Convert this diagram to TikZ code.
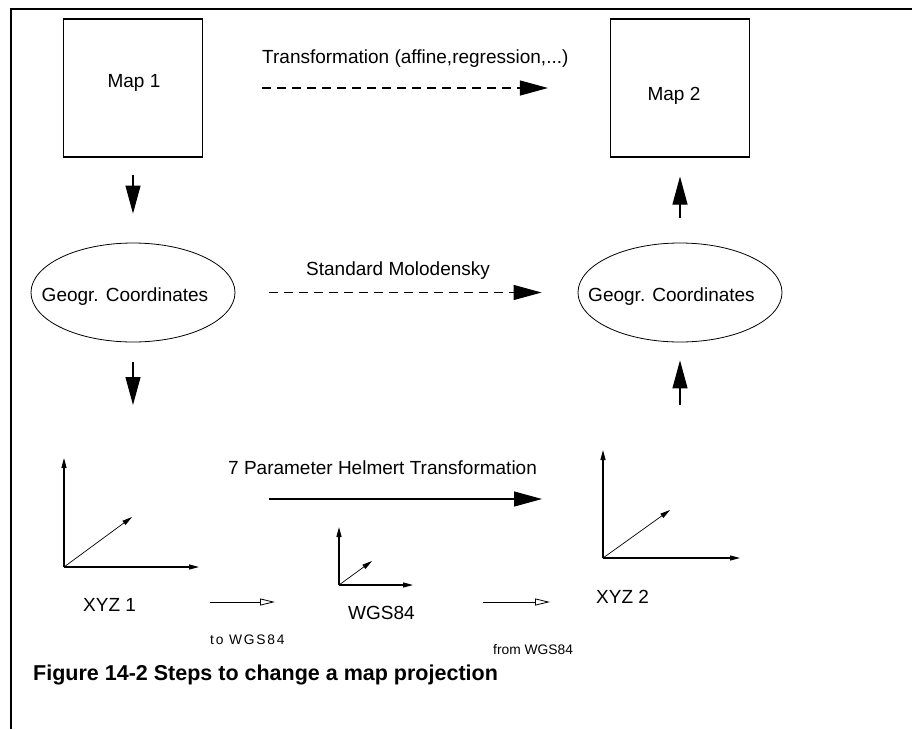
\documentclass[tikz,border=0pt]{standalone}
\usepackage{fontspec}
\setmainfont{Liberation Sans}
\usetikzlibrary{arrows.meta,shapes.geometric}

\begin{document}
\begin{tikzpicture}[x=1pt,y=-1pt,
  lbl/.style={inner sep=0pt, font=\fontsize{19}{22}\selectfont},
  small/.style={inner sep=0pt, font=\fontsize{13.8}{16}\selectfont},
  capt/.style={inner sep=0pt, font=\fontsize{21.5}{24}\selectfont\bfseries},
  mapbox/.style={draw, line width=1.1pt, minimum width=139pt, minimum height=138pt, inner sep=0pt},
  geo/.style={draw, ellipse, line width=0.8pt, minimum width=204pt, minimum height=99pt, inner sep=0pt},
  flow/.style={line width=1.1pt, -{Triangle[length=28pt,width=15pt]}},
  dashflow/.style={flow, dash pattern=on 9pt off 6pt},
  axis/.style={line width=1.2pt, -{Triangle[length=10pt,width=5pt]}},
  diag/.style={line width=0.7pt, -{Triangle[length=10pt,width=5pt]}},
  hollow/.style={line width=0.8pt, -{Triangle[open,length=15pt,width=7pt]}},
]
\useasboundingbox (0,0) rectangle (912,729);

% frame
\draw[line width=2.2pt] (912,9) -- (11,9) -- (11,729);

% maps
\node[mapbox] (map1) at (133,88) {};
\node[mapbox] (map2) at (680,88) {};
\node[lbl] (map1t) at (134,83) {Map 1};
\node[lbl] (map2t) at (674,96) {Map 2};

% geographic coordinates
\node[geo] (geoL) at (133,292.5) {};
\node[geo] (geoR) at (680,292.5) {};
\node[lbl] (geoLt) at (125,297) {Geogr. Coordinates};
\node[lbl] (geoRt) at (671.5,297) {Geogr. Coordinates};

% cartesian frames
\coordinate (o1) at (64,567);
\coordinate (o1y) at (64,458);
\coordinate (o1x) at (199,567);
\coordinate (o1z) at (132,517);
\coordinate (ow) at (339,585);
\coordinate (owy) at (339,527);
\coordinate (owx) at (413,585);
\coordinate (owz) at (372,561);
\coordinate (o2) at (603,558);
\coordinate (o2y) at (603,450);
\coordinate (o2x) at (740,558);
\coordinate (o2z) at (670,510);

\draw[axis] (o1) -- (o1y);
\draw[axis] (o1) -- (o1x);
\draw[diag] (o1) -- (o1z);
\draw[axis] (ow) -- (owy);
\draw[axis] (ow) -- (owx);
\draw[diag] (ow) -- (owz);
\draw[axis] (o2) -- (o2y);
\draw[axis] (o2) -- (o2x);
\draw[diag] (o2) -- (o2z);

\node[lbl, anchor=west] (xyz1) at (83,605) {XYZ 1};
\node[lbl, anchor=west] (wgs) at (348,613) {WGS84};
\node[lbl, anchor=west] (xyz2) at (596,597) {XYZ 2};

% vertical steps
\coordinate (xyz1top) at (133,405);
\coordinate (xyz2top) at (680,405);
\draw[flow, shorten <=17pt, shorten >=29pt] (map1) -- (geoL);
\draw[flow, shorten <=20pt] (geoL) -- (xyz1top);
\draw[flow] (xyz2top) -- ([yshift=-18pt]geoR.south);
\draw[flow, shorten <=25pt, shorten >=19pt] (geoR) -- (map2);

% horizontal steps
\draw[dashflow, shorten <=59pt, shorten >=62pt] (map1) -- (map2);
\node[lbl, anchor=west] (affine) at (262,59) {Transformation (affine,regression,...)};
\draw[dashflow, shorten <=34pt, shorten >=36pt] (geoL) -- (geoR);
\node[lbl, anchor=west] (molo) at (306,271) {Standard Molodensky};
\coordinate (h1) at (269,499);
\coordinate (h2) at (542,499);
\draw[flow] (h1) -- (h2);
\node[lbl, anchor=west] (helmert) at (228,468) {7 Parameter Helmert Transformation};

% via WGS84
\coordinate (t1) at (210,602);
\coordinate (t2) at (275,602);
\coordinate (f1) at (483,602);
\coordinate (f2) at (550,602);
\draw[hollow] (t1) -- (t2);
\draw[hollow] (f1) -- (f2);
\node[small, anchor=west] (tolab) at (210,640) {\addfontfeature{LetterSpace=13}to WGS84};
\node[small, anchor=west] (fromlab) at (493,650) {from WGS84};

% caption
\node[capt, anchor=west] (caption) at (33,675) {Figure 14-2 Steps to change a map projection};
\end{tikzpicture}
\end{document}
